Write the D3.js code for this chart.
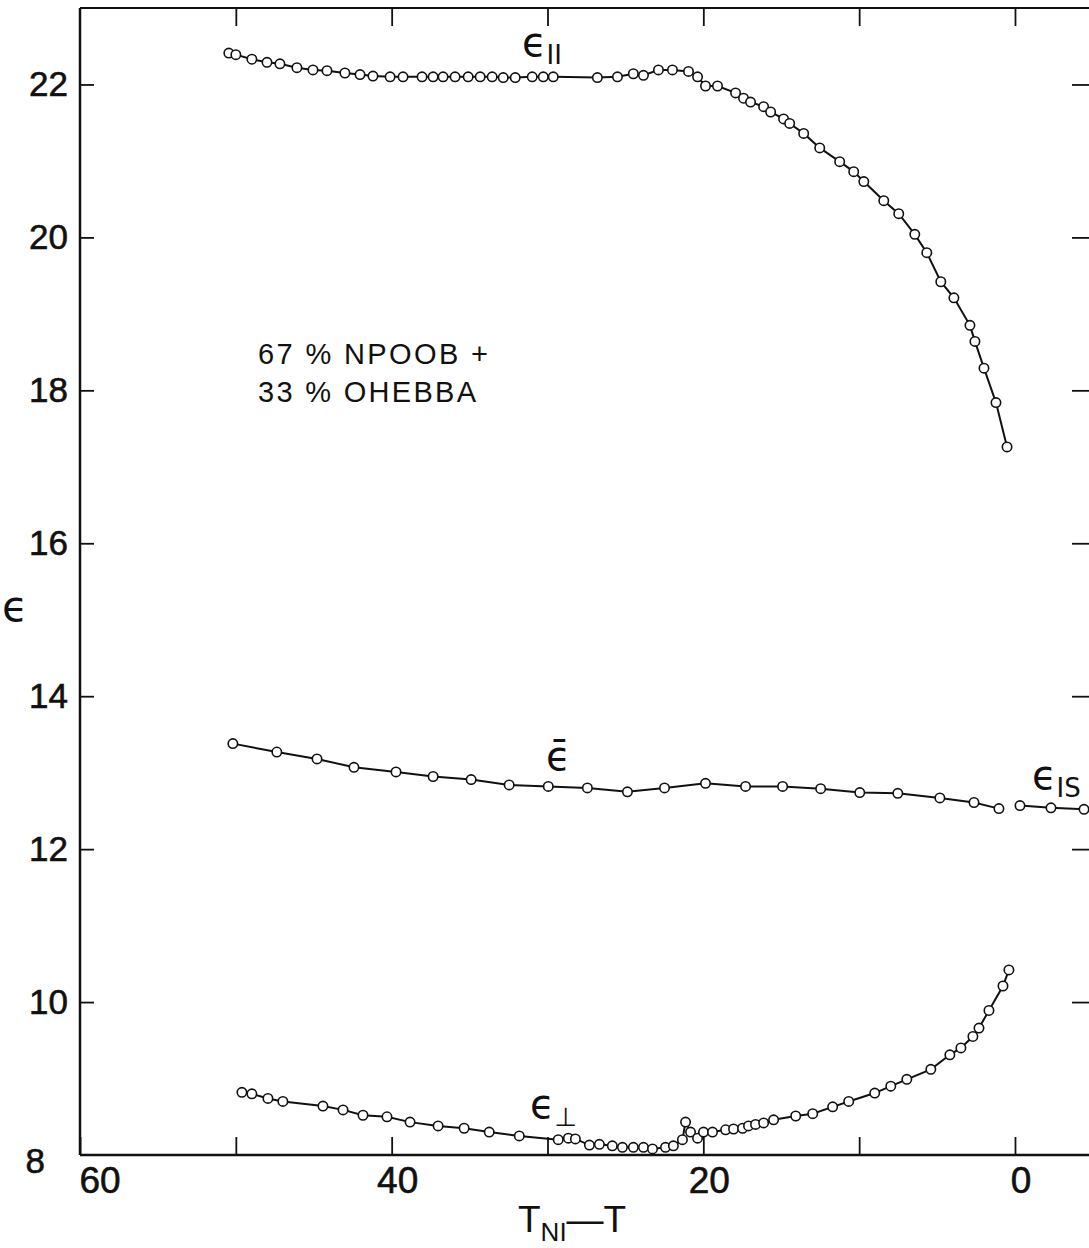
<!DOCTYPE html>
<html>
<head>
<meta charset="utf-8">
<script src="https://cdn.jsdelivr.net/npm/d3@7"></script>
<style>
  body { margin: 0; background: #fff; }
  svg { display: block; }
  text { fill: #111; }
</style>
</head>
<body>
<div id="chart"></div>
<script>
// values: x = T_NI - T, y = epsilon
var parX = [50.45, 50.0, 48.97, 48.0, 47.17, 46.08, 45.05, 44.15, 43.0, 42.03, 41.2, 40.1, 39.27, 38.05, 37.34, 36.7, 35.93, 35.09, 34.32, 33.55, 32.84, 32.07, 30.98, 30.27, 29.63, 26.8, 25.51, 24.49, 23.84, 22.88, 21.98, 20.95, 20.37, 19.86, 19.09, 17.93, 17.42, 16.97, 16.13, 15.68, 14.85, 14.46, 13.56, 12.53, 11.25, 10.35, 9.70, 8.42, 7.46, 6.43, 5.66, 4.76, 3.92, 2.89, 2.57, 1.99, 1.22, 0.51];
var parY = [22.41, 22.39, 22.33, 22.29, 22.27, 22.22, 22.19, 22.18, 22.15, 22.13, 22.11, 22.10, 22.10, 22.10, 22.10, 22.10, 22.10, 22.10, 22.10, 22.10, 22.09, 22.09, 22.10, 22.10, 22.10, 22.09, 22.10, 22.14, 22.12, 22.19, 22.19, 22.17, 22.10, 21.98, 21.98, 21.89, 21.82, 21.77, 21.71, 21.64, 21.55, 21.49, 21.36, 21.17, 20.99, 20.86, 20.73, 20.48, 20.31, 20.04, 19.80, 19.42, 19.21, 18.85, 18.64, 18.29, 17.84, 17.26];

var meanX = [50.19, 47.37, 44.79, 42.42, 39.72, 37.34, 34.90, 32.46, 29.95, 27.44, 24.87, 22.49, 19.86, 17.29, 14.91, 12.47, 9.96, 7.52, 4.82, 2.63, 1.03];
var meanY = [13.38, 13.27, 13.18, 13.07, 13.01, 12.95, 12.91, 12.84, 12.82, 12.80, 12.75, 12.80, 12.86, 12.82, 12.82, 12.79, 12.74, 12.73, 12.67, 12.61, 12.53];

var isoX = [-0.32, -2.31, -4.43];
var isoY = [12.57, 12.54, 12.52];

var perpX = [49.61, 48.97, 47.94, 46.98, 44.41, 43.12, 41.84, 40.30, 38.82, 37.02, 35.35, 33.74, 31.81, 29.31, 28.66, 28.21, 27.31, 26.67, 25.84, 25.19, 24.49, 23.84, 23.26, 22.43, 21.92, 21.34, 21.14, 20.82, 20.37, 19.99, 19.41, 18.57, 18.06, 17.48, 17.10, 16.65, 16.13, 15.49, 14.07, 12.98, 11.70, 10.67, 9.00, 7.97, 6.94, 5.40, 4.18, 3.47, 2.70, 2.31, 1.67, 0.77, 0.39];
var perpY = [8.82, 8.80, 8.74, 8.70, 8.64, 8.59, 8.52, 8.50, 8.43, 8.38, 8.35, 8.30, 8.25, 8.20, 8.22, 8.21, 8.13, 8.14, 8.12, 8.10, 8.10, 8.10, 8.08, 8.10, 8.12, 8.20, 8.43, 8.30, 8.22, 8.30, 8.30, 8.33, 8.34, 8.35, 8.38, 8.40, 8.42, 8.46, 8.51, 8.54, 8.63, 8.70, 8.81, 8.90, 8.99, 9.12, 9.31, 9.40, 9.55, 9.66, 9.89, 10.21, 10.42];

var xTicks = [60, 50, 40, 30, 20, 10, 0];
var xTickLabels = [60, 40, 20, 0];
var yTicks = [8, 10, 12, 14, 16, 18, 20, 22];

var svgWidth = 1089;
var svgHeight = 1248;
var margin = {top: 8, right: 0, bottom: 93, left: 80};
var width = svgWidth - margin.left - margin.right;
var height = svgHeight - margin.top - margin.bottom;

var svg = d3.select("#chart")
    .append("svg")
    .attr("width", svgWidth)
    .attr("height", svgHeight);

var chart = svg.append("g")
    .attr("transform", "translate(" + margin.left + "," + margin.top + ")");

// x runs backwards: 60 on the left, past 0 into the isotropic phase
var x = d3.scaleLinear().domain([60, -4.75]).range([0, width]);
var y = d3.scaleLinear().domain([8, 23]).range([height, 0]);

// frame
chart.append("line").attr("x1", 0).attr("x2", 0).attr("y1", 0).attr("y2", height)
    .attr("stroke", "#111").attr("stroke-width", 2.5);
chart.append("line").attr("x1", 0).attr("x2", width).attr("y1", height).attr("y2", height)
    .attr("stroke", "#111").attr("stroke-width", 2.5);
chart.append("line").attr("x1", 0).attr("x2", width).attr("y1", 0).attr("y2", 0)
    .attr("stroke", "#111").attr("stroke-width", 1.8);

// inward ticks on all sides
var bottomAxis = d3.axisTop(x).tickValues(xTicks).tickSize(18).tickFormat("");
chart.append("g").attr("class", "tk").attr("transform", "translate(0," + height + ")").call(bottomAxis);
var topAxis = d3.axisBottom(x).tickValues(xTicks.filter(d => d < 60)).tickSize(18).tickFormat("");
chart.append("g").attr("class", "tk").call(topAxis);
var leftAxis = d3.axisRight(y).tickValues(yTicks.filter(d => d > 8)).tickSize(14).tickFormat("");
chart.append("g").attr("class", "tk").call(leftAxis);
var rightAxis = d3.axisLeft(y).tickValues(yTicks.filter(d => d > 8)).tickSize(17).tickFormat("");
chart.append("g").attr("class", "tk").attr("transform", "translate(" + width + ",0)").call(rightAxis);
chart.selectAll(".tk .domain").remove();
chart.selectAll(".tk line").attr("stroke", "#111").attr("stroke-width", 1.8);

// tick labels
chart.selectAll(".xl")
    .data(xTickLabels)
    .enter()
    .append("text")
    .attr("x", d => x(d) + (d === 60 ? 20 : 6))
    .attr("y", height + 38)
    .attr("text-anchor", "middle")
    .style("font-family", "Liberation Sans, Arial, sans-serif")
    .style("font-size", "37px")
    .style("stroke", "#111")
    .style("stroke-width", 0.6)
    .text(d => d);

chart.selectAll(".yl")
    .data(yTicks)
    .enter()
    .append("text")
    .attr("x", d => d === 8 ? -35 : -12)
    .attr("y", d => y(d) + (d === 8 ? 18 : 12))
    .attr("text-anchor", "end")
    .style("font-family", "Liberation Sans, Arial, sans-serif")
    .style("font-size", "35px")
    .style("stroke", "#111")
    .style("stroke-width", 0.6)
    .text(d => d);

// axis titles
svg.append("text")
    .attr("x", 15)
    .attr("y", 621)
    .attr("text-anchor", "middle")
    .style("font-family", "DejaVu Sans, sans-serif")
    .style("font-size", "42px")
    .text("\u03F5");

var xTitle = svg.append("text")
    .attr("x", 518)
    .attr("y", 1232)
    .style("font-family", "Liberation Sans, Arial, sans-serif")
    .style("font-size", "37px");
xTitle.append("tspan").text("T");
xTitle.append("tspan").attr("dy", 9).style("font-size", "26px").text("NI");
xTitle.append("tspan").attr("dy", -9).text("\u2014T");

// composition note
var note = svg.append("g")
    .style("font-family", "Liberation Sans, Arial, sans-serif")
    .style("font-size", "29px");
note.append("text").attr("x", 258).attr("y", 364)
    .attr("textLength", 230).attr("lengthAdjust", "spacing").text("67 % NPOOB +");
note.append("text").attr("x", 258).attr("y", 402)
    .attr("textLength", 218).attr("lengthAdjust", "spacing").text("33 % OHEBBA");

// curves
var line = d3.line().x(d => x(d[0])).y(d => y(d[1]));

function drawSeries(xs, ys) {
    var pts = xs.map((v, i) => [v, ys[i]]);
    chart.append("path")
        .datum(pts)
        .attr("d", line)
        .attr("fill", "none")
        .attr("stroke", "#111")
        .attr("stroke-width", 2);
    chart.append("g")
        .selectAll("circle")
        .data(pts)
        .enter()
        .append("circle")
        .attr("cx", d => x(d[0]))
        .attr("cy", d => y(d[1]))
        .attr("r", 4.7)
        .attr("fill", "#fff")
        .attr("stroke", "#111")
        .attr("stroke-width", 1.6);
}

drawSeries(parX, parY);
drawSeries(meanX, meanY);
drawSeries(isoX, isoY);
drawSeries(perpX, perpY);

// curve labels
function curveLabel(px, py, main, sub) {
    var t = svg.append("text")
        .attr("x", px)
        .attr("y", py)
        .style("font-family", "DejaVu Sans, sans-serif")
        .style("font-size", "40px");
    t.append("tspan").text(main);
    if (sub) {
        t.append("tspan").attr("dy", 8).style("font-size", "26px").text(sub);
    }
}
curveLabel(522, 56, "\u03F5", "II");
curveLabel(546, 770, "\u03F5\u0304", null);
curveLabel(1032, 789, "\u03F5", "IS");
curveLabel(530, 1118, "\u03F5", "\u22A5");
</script>
</body>
</html>
